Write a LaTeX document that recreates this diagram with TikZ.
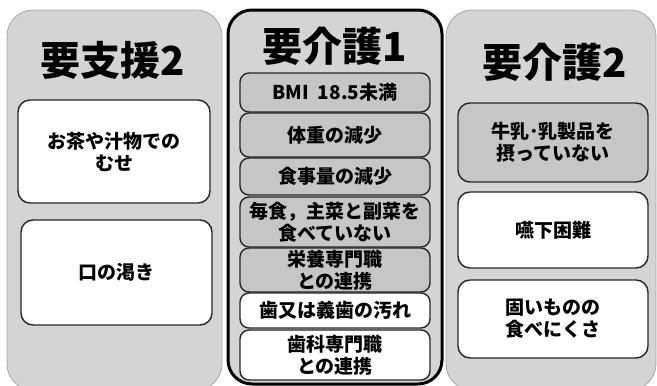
\documentclass[tikz,border=0pt]{standalone}
\usepackage{fontspec}
\newfontfamily\cjk{Noto Sans CJK JP}
\definecolor{panelgray}{HTML}{D4D4D4}
\definecolor{boxgray}{HTML}{C6C6C6}
\begin{document}
\begin{tikzpicture}[x=1pt,y=-1pt,
  panel/.style={draw=gray!70,line width=0.8pt,fill=panelgray,rounded corners=26pt},
  midpanel/.style={draw=black,line width=3pt,fill=panelgray,rounded corners=24pt},
  title/.style={font=\cjk\bfseries\fontsize{40}{44}\selectfont,inner sep=0pt},
  item/.style={draw=black!85,line width=1.4pt,rounded corners=12pt,align=center,
    inner sep=0pt,font=\cjk\bfseries\fontsize{19}{22}\selectfont},
  wbox/.style={item,fill=white},
  gbox/.style={item,fill=boxgray},
  mid/.style={rounded corners=9pt,minimum width=190pt}]
\useasboundingbox (0,0) rectangle (657,386);
% panels
\node[panel,minimum width=215pt,minimum height=380pt] (p1) at (114.5,200) {};
\node[panel,minimum width=210pt,minimum height=380pt] (p3) at (551,200) {};
\node[midpanel,minimum width=214pt,minimum height=374pt] (p2) at (335,197) {};
% titles
\node[title] (t1) at (113,60) {要支援2};
\node[title] (t2) at (335,46) {要介護1};
\node[title] (t3) at (555,62) {要介護2};
% left
\node[wbox,minimum width=192pt,minimum height=103pt] (a1) at (114,151.5) {お茶や汁物での\\むせ};
\node[wbox,minimum width=191pt,minimum height=105pt] (a2) at (116.5,272.5) {口の渇き};
% middle
\node[gbox,mid,minimum height=39pt] (b1) at (335,92.5) {BMI\ \ 18.5未満};
\node[gbox,mid,minimum height=44pt] (b2) at (335,135) {体重の減少};
\node[gbox,mid,minimum height=37pt] (b3) at (335,176.5) {食事量の減少};
\node[gbox,mid,minimum height=50pt] (b4) at (335,222) {毎食，主菜と副菜を\\食べていない};
\node[gbox,mid,minimum height=44pt] (b5) at (335,270) {栄養専門職\\との連携};
\node[wbox,mid,minimum height=35pt] (b6) at (335,310.5) {歯又は義歯の汚れ};
\node[wbox,mid,minimum height=50pt] (b7) at (335,355) {歯科専門職\\との連携};
% right
\node[gbox,minimum width=190pt,minimum height=79pt] (c1) at (553,142.5) {牛乳･乳製品を\\摂っていない};
\node[wbox,minimum width=190pt,minimum height=76pt] (c2) at (553,230) {嚥下困難};
\node[wbox,minimum width=190pt,minimum height=78pt] (c3) at (553,319) {固いものの\\食べにくさ};
\end{tikzpicture}
\end{document}
